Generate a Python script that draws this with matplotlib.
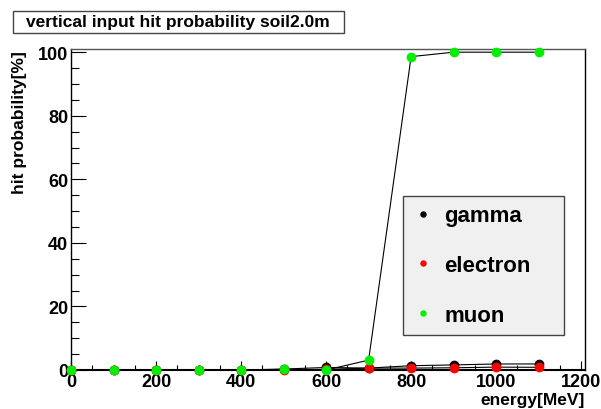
import matplotlib.pyplot as plt
from matplotlib.patches import Rectangle
from matplotlib.ticker import MultipleLocator

# energies [MeV] and hit probabilities [%]
energy = [0, 100, 200, 300, 400, 500, 600, 700, 800, 900, 1000, 1100]
gamma = [0, 0, 0, 0, 0, 0.3, 0.8, 0.6, 1.35, 1.6, 1.9, 1.9]
electron = [0, 0, 0, 0, 0, 0.1, 0.2, 0.6, 0.6, 0.7, 0.9, 0.85]
muon = [0, 0, 0, 0, 0, 0.2, 0, 3.1, 98.6, 100, 100, 100]

series_names = ['gamma', 'electron', 'muon']
series_colors = ['black', 'red', '#00ee00']

plt.rcParams['font.family'] = ['Liberation Sans', 'DejaVu Sans']
plt.rcParams['font.weight'] = 'bold'

W, H = 601, 410
fig = plt.figure(figsize=(W / 100, H / 100), dpi=100)
ax = fig.add_axes([71 / W, 1 - 371 / H, (585 - 71) / W, (371 - 50) / H])

for vals, name, col in zip([gamma, electron, muon], series_names, series_colors):
    ax.plot(energy, vals, '-', color='black', lw=0.8, zorder=2)
    ax.plot(energy, vals, 'o', color=col, ms=6, mec=col, label=name, zorder=3,
            clip_on=False)

ax.set_xlim(0, 1209)
ax.set_ylim(0, 101)
ax.xaxis.set_major_locator(MultipleLocator(200))
ax.xaxis.set_minor_locator(MultipleLocator(50))
ax.yaxis.set_major_locator(MultipleLocator(20))
ax.yaxis.set_minor_locator(MultipleLocator(5))
ax.tick_params(which='both', direction='in', top=False, right=False,
               labelsize=13, width=0.8)
ax.tick_params(axis='y', which='major', length=10.8, pad=2)
ax.tick_params(axis='y', which='minor', length=5.8)
ax.tick_params(axis='x', which='major', length=6.5, pad=2)
ax.tick_params(axis='x', which='minor', length=3.6)
for lab in ax.get_xticklabels() + ax.get_yticklabels():
    lab.set_fontweight('bold')

ax.spines['bottom'].set_linewidth(1.5)
ax.spines['left'].set_linewidth(1.0)
ax.spines['top'].set_color('#555555')
ax.spines['top'].set_linewidth(1.0)
ax.spines['right'].set_linewidth(1.0)

ax.set_xlabel('energy[MeV]', fontsize=12.5, fontweight='bold', ha='right')
ax.xaxis.set_label_coords(1.0, -0.067)
ax.set_ylabel('hit probability[%]', fontsize=12.5, fontweight='bold',
              ha='right', va='center')
ax.yaxis.set_label_coords(-0.101, 1 - 1 / 321)

lx0, lx1, ly0, ly1 = 403, 564, 195, 336
leg = ax.legend(loc='lower left', mode='expand',
                bbox_to_anchor=((lx0 - 71) / 514, (371 - ly1) / 321,
                                (lx1 - lx0) / 514, (ly1 - ly0) / 321),
                frameon=True, fancybox=False, fontsize=16, markerscale=0.6,
                handlelength=1.0, handletextpad=0.45, labelspacing=1.3,
                borderpad=0.4, borderaxespad=0)
leg.get_frame().set_facecolor('#f0f0f0')
leg.get_frame().set_edgecolor('#444444')
leg.get_frame().set_linewidth(1.0)
leg.get_frame().set_alpha(1)
for t in leg.get_texts():
    t.set_fontweight('bold')

fig.patches.append(Rectangle((13 / W, 1 - 34 / H), (344 - 13) / W, 22 / H,
                             transform=fig.transFigure, fc='white', ec='#444444',
                             lw=1.0))
fig.text(178 / W, 1 - 23 / H, 'vertical input hit probability soil2.0m',
         ha='center', va='center', fontsize=12.5, fontweight='bold')

fig.savefig('out.png', dpi=100)
